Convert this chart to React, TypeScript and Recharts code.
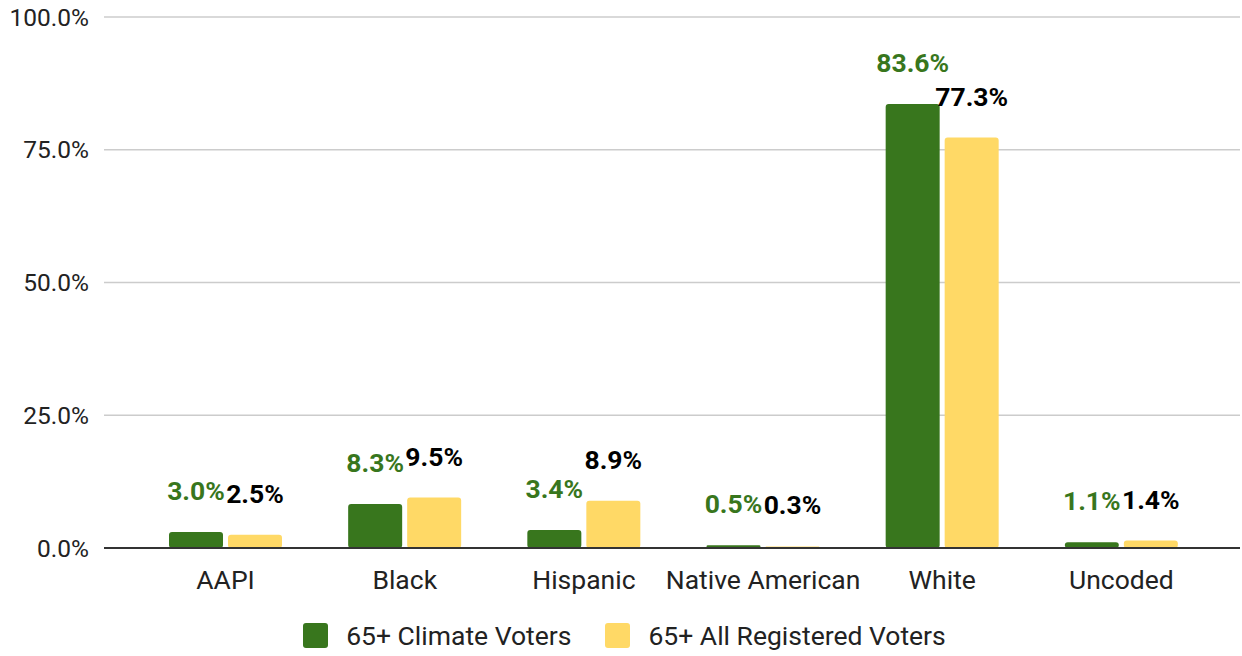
import React from "react";
import { BarChart, Bar, XAxis, YAxis, CartesianGrid, LabelList, Legend } from "recharts";

const categories = ["AAPI", "Black", "Hispanic", "Native American", "White", "Uncoded"];
const climateVoters = [3.0, 8.3, 3.4, 0.5, 83.6, 1.1];
const allRegistered = [2.5, 9.5, 8.9, 0.3, 77.3, 1.4];
const yTicks = [0, 25, 50, 75, 100];
const seriesNames = ["65+ Climate Voters", "65+ All Registered Voters"];

const GREEN = "#38761d";
const YELLOW = "#ffd966";
const FONT = "Roboto, 'Noto Sans', sans-serif";

const data = categories.map((c, i) => ({
  name: c,
  climate: climateVoters[i],
  all: allRegistered[i],
}));

const fmt = (v: any) => `${Number(v).toFixed(1)}%`;

const LegendContent = () => (
  <div
    style={{
      display: "flex",
      justifyContent: "center",
      alignItems: "center",
      gap: 34,
      paddingLeft: 7,
      fontFamily: FONT,
      fontSize: 26.5,
      color: "#222",
    }}
  >
    {[GREEN, YELLOW].map((c, i) => (
      <div key={i} style={{ display: "flex", alignItems: "center" }}>
        <div style={{ width: 25, height: 25, background: c, borderRadius: 3, marginRight: 18 }} />
        <span>{seriesNames[i]}</span>
      </div>
    ))}
  </div>
);

export default function App() {
  return (
    <div style={{ position: "absolute", left: 0, top: 0, width: 1242, height: 656, background: "#fff" }}>
      <BarChart
        width={1242}
        height={656}
        data={data}
        margin={{ top: 17, right: 2, bottom: 17, left: 0 }}
        barSize={54}
        barGap={5}
      >
        <CartesianGrid vertical={false} stroke="#cccccc" strokeWidth={1.5} />
        <XAxis
          dataKey="name"
          padding={{ left: 32, right: 29 }}
          tickLine={false}
          tickSize={0}
          tickMargin={22}
          axisLine={{ stroke: "#333", strokeWidth: 2 }}
          tick={{ fill: "#222", fontSize: 26.5, fontFamily: FONT }}
          interval={0}
          height={60}
        />
        <YAxis
          domain={[0, 100]}
          ticks={yTicks}
          tickFormatter={fmt}
          axisLine={false}
          tickLine={false}
          tickSize={0}
          tickMargin={15}
          width={104}
          tick={{ fill: "#222", fontSize: 24.5, fontFamily: FONT }}
        />
        <Legend
          content={<LegendContent />}
          wrapperStyle={{ position: "absolute", top: 620, left: 0, width: 1242, bottom: "auto" }}
        />
        <Bar dataKey="climate" fill={GREEN} radius={3} isAnimationActive={false}>
          <LabelList
            dataKey="climate"
            position="top"
            offset={32}
            formatter={fmt}
            style={{ fill: GREEN, fontSize: 26.5, fontWeight: 700, fontFamily: FONT }}
          />
        </Bar>
        <Bar dataKey="all" fill={YELLOW} radius={3} isAnimationActive={false}>
          <LabelList
            dataKey="all"
            position="top"
            offset={32}
            formatter={fmt}
            style={{ fill: "#000", fontSize: 26.5, fontWeight: 700, fontFamily: FONT }}
          />
        </Bar>
      </BarChart>
    </div>
  );
}
